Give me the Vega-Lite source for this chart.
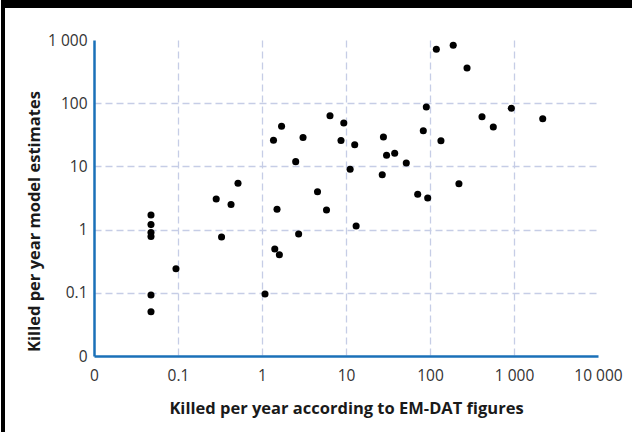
{
  "$schema": "https://vega.github.io/schema/vega-lite/v6.json",
  "padding": 0,
  "background": "white",
  "config": {"view": {"stroke": null}},
  "hconcat": [
    {
      "width": 4, "height": 432,
      "data": {"values": [{}]},
      "mark": {"type": "point", "opacity": 0},
      "view": {"fill": "black", "stroke": null}
    },
    {
      "vconcat": [
        {
          "width": 628, "height": 8,
          "data": {"values": [{}]},
          "mark": {"type": "point", "opacity": 0},
          "view": {"fill": "black", "stroke": null}
        },
        {
          "hconcat": [
            {
              "width": 89, "height": 316,
              "data": {"values": [{}]},
              "mark": {"type": "point", "opacity": 0}
            },
            {
              "width": 504, "height": 316,
              "data": {"values": [
                {"emdat": 0.0477, "model": 1.70},
                {"emdat": 0.0477, "model": 1.20},
                {"emdat": 0.0477, "model": 0.90},
                {"emdat": 0.0477, "model": 0.78},
                {"emdat": 0.0477, "model": 0.092},
                {"emdat": 0.0477, "model": 0.050},
                {"emdat": 0.0946, "model": 0.240},
                {"emdat": 0.285, "model": 3.05},
                {"emdat": 0.428, "model": 2.50},
                {"emdat": 0.518, "model": 5.40},
                {"emdat": 0.330, "model": 0.764},
                {"emdat": 1.086, "model": 0.0957},
                {"emdat": 1.42, "model": 0.493},
                {"emdat": 1.61, "model": 0.401},
                {"emdat": 1.51, "model": 2.10},
                {"emdat": 1.37, "model": 25.9},
                {"emdat": 1.71, "model": 43.3},
                {"emdat": 3.08, "model": 28.7},
                {"emdat": 2.52, "model": 11.9},
                {"emdat": 2.73, "model": 0.851},
                {"emdat": 4.58, "model": 3.98},
                {"emdat": 5.86, "model": 2.04},
                {"emdat": 6.45, "model": 63.4},
                {"emdat": 9.41, "model": 48.6},
                {"emdat": 8.72, "model": 25.7},
                {"emdat": 12.7, "model": 22.0},
                {"emdat": 11.2, "model": 9.03},
                {"emdat": 13.2, "model": 1.14},
                {"emdat": 27.9, "model": 29.2},
                {"emdat": 30.4, "model": 15.0},
                {"emdat": 38.0, "model": 16.1},
                {"emdat": 27.0, "model": 7.39},
                {"emdat": 52.2, "model": 11.3},
                {"emdat": 71.4, "model": 3.63},
                {"emdat": 93.9, "model": 3.16},
                {"emdat": 83.2, "model": 36.7},
                {"emdat": 90.4, "model": 87.1},
                {"emdat": 135, "model": 25.5},
                {"emdat": 119, "model": 713},
                {"emdat": 189, "model": 824},
                {"emdat": 276, "model": 361},
                {"emdat": 221, "model": 5.33},
                {"emdat": 416, "model": 61.1},
                {"emdat": 567, "model": 42.0},
                {"emdat": 929, "model": 83.0},
                {"emdat": 2198, "model": 56.9}
              ]},
              "mark": {"type": "circle", "size": 50, "color": "black", "opacity": 1},
              "encoding": {
                "x": {
                  "field": "emdat", "type": "quantitative",
                  "scale": {"type": "log", "domain": [0.01, 10000], "nice": false},
                  "axis": {
                    "title": "Killed per year according to EM-DAT figures",
                    "values": [0.01, 0.1, 1, 10, 100, 1000, 10000],
                    "labelExpr": "datum.value < 0.05 ? '0' : datum.value >= 1000 ? replace(format(datum.value, ',d'), ',', ' ') : datum.value < 1 ? format(datum.value, '.1f') : format(datum.value, 'd')",
                    "ticks": false,
                    "labelPadding": 12,
                    "labelFlush": false,
                    "labelOverlap": false,
                    "labelFont": "Open Sans",
                    "labelFontSize": 15.5,
                    "labelColor": "#333333",
                    "domainColor": "#1a70b8",
                    "domainWidth": 2.5,
                    "grid": true,
                    "gridColor": "#c6cde6",
                    "gridDash": [7, 4],
                    "gridWidth": 1.3,
                    "gridOpacity": {"condition": {"test": "datum.value < 0.05 || datum.value > 5000", "value": 0}, "value": 1},
                    "titleFont": "Open Sans",
                    "titleFontSize": 16.5,
                    "titleFontWeight": "bold",
                    "titleColor": "#1a1a1a",
                    "titleY": 44,
                    "titleBaseline": "top"
                  }
                },
                "y": {
                  "field": "model", "type": "quantitative",
                  "scale": {"type": "log", "domain": [0.01, 1000], "nice": false},
                  "axis": {
                    "title": "Killed per year model estimates",
                    "values": [0.01, 0.1, 1, 10, 100, 1000],
                    "labelExpr": "datum.value < 0.05 ? '0' : datum.value >= 1000 ? replace(format(datum.value, ',d'), ',', ' ') : datum.value < 1 ? format(datum.value, '.1f') : format(datum.value, 'd')",
                    "ticks": false,
                    "labelPadding": 7,
                    "labelFlush": false,
                    "labelOverlap": false,
                    "labelFont": "Open Sans",
                    "labelFontSize": 15.5,
                    "labelColor": "#333333",
                    "domainColor": "#1a70b8",
                    "domainWidth": 2.5,
                    "grid": true,
                    "gridColor": "#c6cde6",
                    "gridDash": [7, 4],
                    "gridWidth": 1.3,
                    "gridOpacity": {"condition": {"test": "datum.value < 0.05 || datum.value > 500", "value": 0}, "value": 1},
                    "titleFont": "Open Sans",
                    "titleFontSize": 16.5,
                    "titleFontWeight": "bold",
                    "titleColor": "#1a1a1a",
                    "titleX": -59.5,
                    "titleY": 181,
                    "titleBaseline": "middle",
                    "titleAlign": "center",
                    "titleAngle": -90
                  }
                }
              }
            }
          ],
          "spacing": 0,
          "bounds": "flush"
        }
      ],
      "spacing": 32,
      "bounds": "flush"
    }
  ],
  "spacing": 0,
  "bounds": "flush"
}
